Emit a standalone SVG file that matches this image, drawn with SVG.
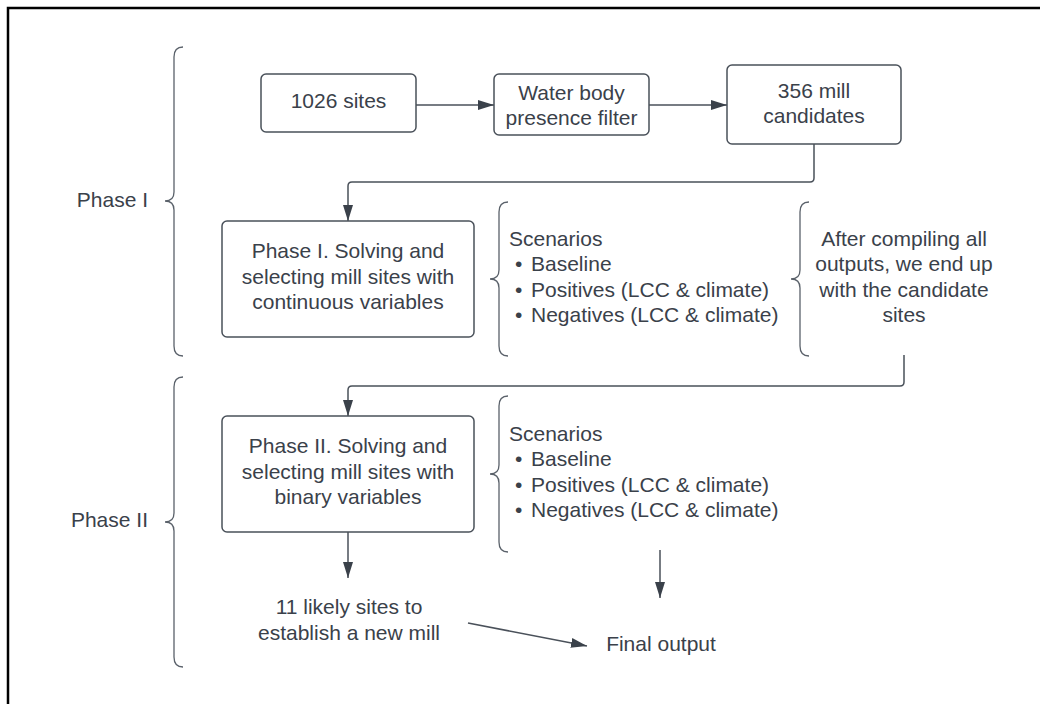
<svg xmlns="http://www.w3.org/2000/svg" width="1040" height="704" viewBox="0 0 1040 704">
<style>
text{font-family:"Liberation Sans",Arial,sans-serif;font-size:21px;fill:#3a414a}
.c{text-anchor:middle}
.e{text-anchor:end}
.box{fill:#fff;stroke:#4a515a;stroke-width:1.5}
.ln{fill:none;stroke:#4a515a;stroke-width:1.5}
.br{fill:none;stroke:#5a616a;stroke-width:1.3}
</style>
<defs>
<marker id="ah" viewBox="0 0 16 10" refX="16" refY="5" markerWidth="16" markerHeight="10" markerUnits="userSpaceOnUse" orient="auto">
<path d="M0,0 L16,5 L0,10 Z" fill="#3a414a"/>
</marker>
</defs>
<rect width="1040" height="704" fill="#fff"/>
<path d="M8,704 L8,8 L1040,8" fill="none" stroke="#000" stroke-width="2.5"/>

<g id="brace-phase1">
<path class="br" d="M183,47 Q174,47 174,57 L174,192 Q174,201 165,201 Q174,201 174,210 L174,346 Q174,356 183,356"/>
<text class="e" x="148" y="207">Phase I</text>
</g>
<g id="brace-phase2">
<path class="br" d="M183,377 Q174,377 174,387 L174,513 Q174,522 165,522 Q174,522 174,531 L174,657 Q174,667 183,667"/>
<text class="e" x="148" y="527">Phase II</text>
</g>

<g id="connectors">
<path class="ln" d="M416,105 L494,105" marker-end="url(#ah)"/>
<path class="ln" d="M649,105 L727,105" marker-end="url(#ah)"/>
<path class="ln" d="M814,144 L814,178 Q814,182 810,182 L352,182 Q348,182 348,186 L348,221" marker-end="url(#ah)"/>
<path class="ln" d="M904,355 L904,382 Q904,386 900,386 L352,386 Q348,386 348,390 L348,416" marker-end="url(#ah)"/>
<path class="ln" d="M348,532 L348,578" marker-end="url(#ah)"/>
<path class="ln" d="M660,550 L660,598" marker-end="url(#ah)"/>
<path class="ln" d="M468,623 L587,646" marker-end="url(#ah)"/>
</g>

<g id="n1026">
<rect class="box" x="261" y="74" width="155" height="58" rx="5"/>
<text class="c" x="338.5" y="108">1026 sites</text>
</g>
<g id="nwater">
<rect class="box" x="494" y="74" width="155" height="61" rx="5"/>
<text class="c" x="571.5" y="100">Water body</text>
<text class="c" x="571.5" y="125">presence filter</text>
</g>
<g id="n356">
<rect class="box" x="727" y="65" width="174" height="79" rx="5"/>
<text class="c" x="814" y="98">356 mill</text>
<text class="c" x="814" y="123">candidates</text>
</g>

<g id="nphase1">
<rect class="box" x="222" y="221" width="252" height="116" rx="5"/>
<text class="c" x="348" y="258">Phase I. Solving and</text>
<text class="c" x="348" y="283.5">selecting mill sites with</text>
<text class="c" x="348" y="309">continuous variables</text>
</g>
<g id="scen1">
<path class="br" d="M508,202 Q499,202 499,212 L499,270 Q499,279 490,279 Q499,279 499,288 L499,346 Q499,356 508,356"/>
<text x="509" y="245.5">Scenarios</text>
<text x="515" y="271">•</text><text x="531" y="271">Baseline</text>
<text x="515" y="296.5">•</text><text x="531" y="296.5">Positives (LCC &amp; climate)</text>
<text x="515" y="322">•</text><text x="531" y="322">Negatives (LCC &amp; climate)</text>
</g>
<g id="compile">
<path class="br" d="M809,202 Q800,202 800,212 L800,270 Q800,279 791,279 Q800,279 800,288 L800,346 Q800,356 809,356"/>
<text class="c" x="904" y="245.5">After compiling all</text>
<text class="c" x="904" y="271">outputs, we end up</text>
<text class="c" x="904" y="296.5">with the candidate</text>
<text class="c" x="904" y="322">sites</text>
</g>

<g id="nphase2">
<rect class="box" x="222" y="416" width="252" height="116" rx="5"/>
<text class="c" x="348" y="453">Phase II. Solving and</text>
<text class="c" x="348" y="478.5">selecting mill sites with</text>
<text class="c" x="348" y="504">binary variables</text>
</g>
<g id="scen2">
<path class="br" d="M508,396 Q499,396 499,406 L499,465 Q499,474 490,474 Q499,474 499,483 L499,542 Q499,552 508,552"/>
<text x="509" y="440.5">Scenarios</text>
<text x="515" y="466">•</text><text x="531" y="466">Baseline</text>
<text x="515" y="491.5">•</text><text x="531" y="491.5">Positives (LCC &amp; climate)</text>
<text x="515" y="517">•</text><text x="531" y="517">Negatives (LCC &amp; climate)</text>
</g>

<g id="likely">
<text class="c" x="349" y="614">11 likely sites to</text>
<text class="c" x="349" y="640">establish a new mill</text>
</g>
<g id="final">
<text class="c" x="661" y="651">Final output</text>
</g>
</svg>
